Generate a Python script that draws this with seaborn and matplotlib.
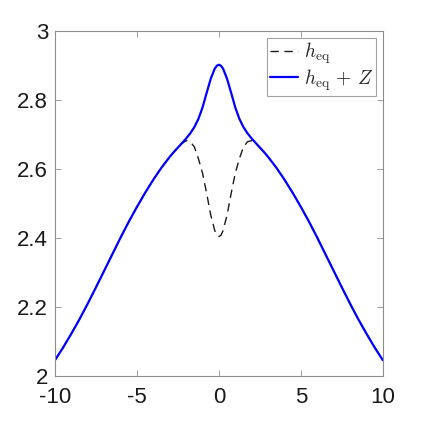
import numpy as np
import pandas as pd
import seaborn as sns
import matplotlib.pyplot as plt
from matplotlib.ticker import FuncFormatter

# %% Data

x_vals = [-10, -9.5, -9, -8.5, -8, -7.5, -7, -6.5, -6, -5.5, -5, -4.5, -4,
          -3.5, -3, -2.75, -2.5, -2.25, -2, -1.75, -1.5, -1.25, -1, -0.75,
          -0.5, -0.25, -0.125, 0, 0.125, 0.25, 0.5, 0.75, 1, 1.25, 1.5, 1.75,
          2, 2.25, 2.5, 2.75, 3, 3.5, 4, 4.5, 5, 5.5, 6, 6.5, 7, 7.5, 8, 8.5,
          9, 9.5, 10]

# h_eq (dashed)
h_eq = [2.046, 2.083, 2.123, 2.165, 2.210, 2.257, 2.305, 2.353, 2.401, 2.447,
        2.490, 2.531, 2.569, 2.604, 2.635, 2.649, 2.662, 2.674, 2.682, 2.679,
        2.664, 2.630, 2.588, 2.530, 2.467, 2.421, 2.408, 2.404, 2.408, 2.421,
        2.467, 2.530, 2.588, 2.630, 2.664, 2.679, 2.682, 2.674, 2.662, 2.649,
        2.635, 2.604, 2.569, 2.531, 2.490, 2.447, 2.401, 2.353, 2.305, 2.257,
        2.210, 2.165, 2.123, 2.083, 2.046]

# h_eq + Z (solid blue)
h_eq_Z = [2.046, 2.083, 2.123, 2.165, 2.210, 2.257, 2.305, 2.353, 2.401, 2.447,
          2.490, 2.531, 2.569, 2.604, 2.635, 2.649, 2.662, 2.675, 2.688, 2.703,
          2.721, 2.745, 2.778, 2.820, 2.861, 2.891, 2.899, 2.902, 2.899, 2.891,
          2.861, 2.820, 2.778, 2.745, 2.721, 2.703, 2.688, 2.675, 2.662, 2.649,
          2.635, 2.604, 2.569, 2.531, 2.490, 2.447, 2.401, 2.353, 2.305, 2.257,
          2.210, 2.165, 2.123, 2.083, 2.046]

x_ticks = [-10, -5, 0, 5, 10]
y_ticks = [2, 2.2, 2.4, 2.6, 2.8, 3]

df = pd.DataFrame({"x": x_vals, "h_eq": h_eq, "h_eq_Z": h_eq_Z})

# %% Plot

sns.set_style("ticks")
plt.rcParams['font.family'] = ['Liberation Sans', 'DejaVu Sans']
plt.rcParams['mathtext.fontset'] = 'cm'
plt.rcParams['axes.unicode_minus'] = False

edge = "#8c8c8c"

fig = plt.figure(figsize=(4.23, 4.23), dpi=100)
ax = fig.add_axes([0.130, 0.111, 0.775, 0.816])

sns.lineplot(data=df, x="x", y="h_eq", ax=ax, color="#1a1a1a", lw=1.0,
             linestyle=(0, (6, 4)), label=r"$h_{\rm eq}$", estimator=None)
sns.lineplot(data=df, x="x", y="h_eq_Z", ax=ax, color="#0000ff", lw=1.6,
             label=r"$h_{\rm eq}\/+\/Z$", estimator=None)

ax.set_xlim(-10, 10)
ax.set_ylim(2, 3)
ax.set_xticks(x_ticks)
ax.set_yticks(y_ticks)
ax.yaxis.set_major_formatter(FuncFormatter(lambda v, p: f"{v:g}"))
ax.set_xlabel("")
ax.set_ylabel("")

for s in ax.spines.values():
    s.set_visible(True)
    s.set_color(edge)
    s.set_linewidth(0.8)
ax.tick_params(direction="in", length=4, width=0.6, color=edge,
               labelsize=16, labelcolor="#1a1a1a", top=True, right=True)
ax.tick_params(axis="x", pad=8)
ax.tick_params(axis="y", pad=5)

leg = ax.legend(loc="upper right", fontsize=14, frameon=True, fancybox=False,
                edgecolor=edge, handlelength=1.45, handletextpad=0.3,
                borderpad=0.15, labelspacing=0.05, borderaxespad=0.35)
leg.get_frame().set_linewidth(0.8)

plt.savefig("out.png", dpi=100)
